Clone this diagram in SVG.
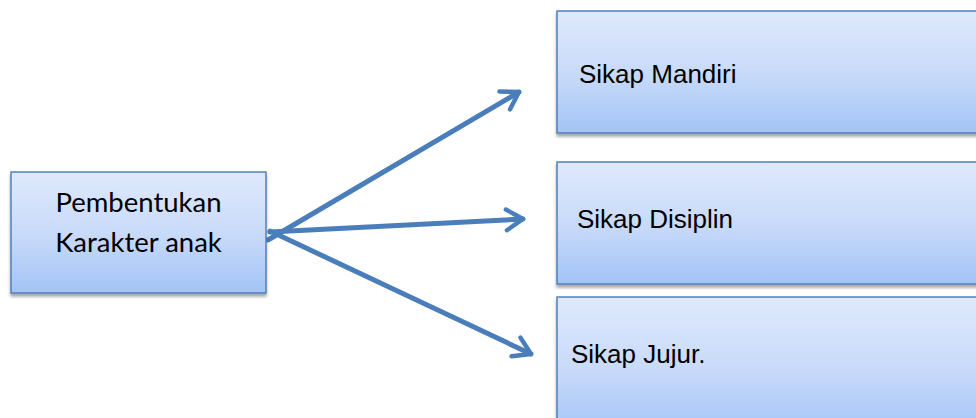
<svg xmlns="http://www.w3.org/2000/svg" width="976" height="418" viewBox="0 0 976 418">
  <defs>
    <linearGradient id="boxFill" x1="0" y1="0" x2="0" y2="1">
      <stop offset="0" stop-color="#dfe9fc"/>
      <stop offset="0.5" stop-color="#c9dbfa"/>
      <stop offset="1" stop-color="#a3c3f6"/>
    </linearGradient>
    <filter id="shadow" x="-10%" y="-10%" width="120%" height="130%">
      <feGaussianBlur in="SourceAlpha" stdDeviation="1.5"/>
      <feOffset dx="0" dy="3" result="b"/>
      <feComponentTransfer><feFuncA type="linear" slope="0.35"/></feComponentTransfer>
      <feMerge><feMergeNode/><feMergeNode in="SourceGraphic"/></feMerge>
    </filter>
    <marker id="arrowOpen" viewBox="0 0 10 10" refX="8.6" refY="5" markerWidth="5.2" markerHeight="5.2" orient="auto" markerUnits="strokeWidth">
      <path d="M2.2,1 L8.6,5 L2.2,9" fill="none" stroke="#4a7ebb" stroke-width="1.7" stroke-linecap="round" stroke-linejoin="round"/>
    </marker>
  </defs>
  <style>
    .box { fill: url(#boxFill); stroke: #4f81bd; stroke-width: 1.5; filter: url(#shadow); }
    .calibri { font-family: "Lato", "Open Sans", sans-serif; font-size: 27.5px; fill: #000; }
    .arial { font-family: "Liberation Sans", Arial, sans-serif; font-size: 26px; fill: #000; }
    .link { fill: none; stroke: #4a7ebb; stroke-width: 5; stroke-linecap: round; marker-end: url(#arrowOpen); }
  </style>
  <rect width="976" height="418" fill="#ffffff"/>

  <g id="connectors">
    <line class="link" x1="268" y1="240" x2="519" y2="92"/>
    <line class="link" x1="270" y1="232" x2="523" y2="219"/>
    <line class="link" x1="270" y1="231" x2="531" y2="354"/>
  </g>

  <g id="node-pembentukan">
    <rect class="box" x="11" y="172" width="255" height="121"/>
    <text class="calibri" x="138.5" y="212" text-anchor="middle">Pembentukan</text>
    <text class="calibri" x="138.5" y="252" text-anchor="middle">Karakter anak</text>
  </g>

  <g id="node-mandiri">
    <rect class="box" x="557" y="11" width="440" height="122"/>
    <text class="arial" x="579" y="83">Sikap Mandiri</text>
  </g>

  <g id="node-disiplin">
    <rect class="box" x="557" y="162" width="440" height="122"/>
    <text class="arial" x="577" y="228">Sikap Disiplin</text>
  </g>

  <g id="node-jujur">
    <rect class="box" x="557" y="297" width="440" height="140"/>
    <text class="arial" x="571" y="363">Sikap Jujur.</text>
  </g>
</svg>
